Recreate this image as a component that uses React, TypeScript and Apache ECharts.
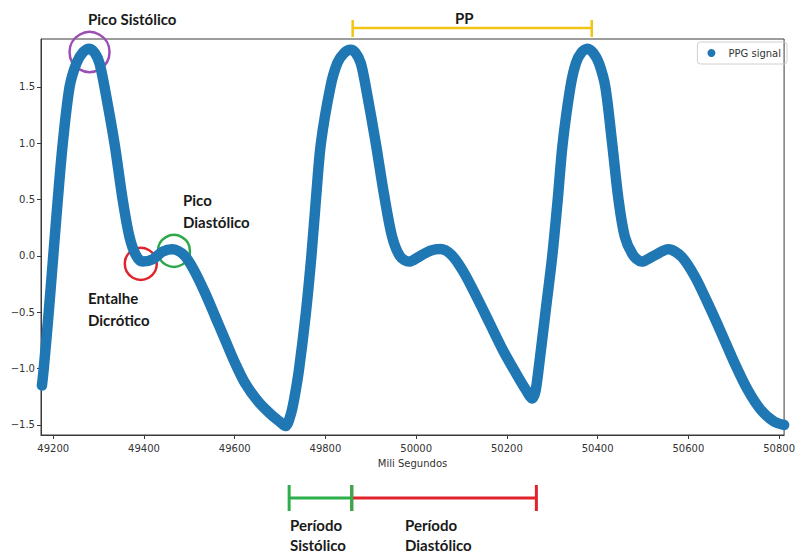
import React, { useEffect, useRef } from "react";
import * as echarts from "echarts";

// PPG signal (time in ms, amplitude)
const timeMs: number[] = [
  // cycle 1
  49175, 49179, 49190, 49200, 49210, 49221, 49236, 49251, 49266, 49280, 49292, 49302, 49313, 49335, 49353, 49368,
  49382, 49397, 49419, 49441, 49462, 49488, 49510, 49535, 49557, 49579, 49601, 49623, 49652, 49681, 49699, 49712,
  // cycle 2
  49724, 49732, 49742, 49757, 49769, 49779, 49790, 49811, 49826, 49841, 49855, 49867, 49878, 49889, 49911, 49929,
  49947, 49965, 49984, 50009, 50031, 50053, 50078, 50104, 50133, 50162, 50191, 50220, 50242, 50256,
  // cycle 3
  50263, 50270, 50285, 50300, 50312, 50323, 50340, 50352, 50365, 50378, 50391, 50403, 50417, 50432, 50446, 50460,
  50478, 50497, 50523, 50556, 50585, 50614, 50643, 50673, 50702, 50731, 50760, 50789, 50811,
];
const signal: number[] = [
  -1.15, -1.0, -0.5, 0.0, 0.5, 1.0, 1.5, 1.71, 1.81, 1.84, 1.8, 1.71, 1.5, 1.0, 0.5, 0.17,
  0.009, -0.05, -0.03, 0.038, 0.059, 0.009, -0.124, -0.331, -0.538, -0.746, -0.952, -1.13, -1.293, -1.411, -1.47, -1.51,
  -1.4, -1.25, -1.0, -0.5, 0.0, 0.5, 1.0, 1.5, 1.71, 1.8, 1.83, 1.8, 1.71, 1.5, 1.0, 0.55,
  0.171, -0.006, -0.05, 0.0, 0.047, 0.062, 0.009, -0.139, -0.361, -0.597, -0.834, -1.041, -1.189, -1.265,
  -1.2, -1.0, -0.5, 0.0, 0.5, 1.0, 1.5, 1.71, 1.81, 1.84, 1.8, 1.71, 1.5, 1.0, 0.5, 0.171,
  0.009, -0.05, 0.0, 0.059, -0.006, -0.18, -0.42, -0.686, -0.952, -1.19, -1.367, -1.47, -1.5,
];

const xTicks: number[] = [49200, 49400, 49600, 49800, 50000, 50200, 50400, 50600, 50800];
const yTicks: number[] = [-1.5, -1.0, -0.5, 0.0, 0.5, 1.0, 1.5];
const xRange: number[] = [49173, 50811];
const yRange: number[] = [-1.589, 1.926];

// annotation anchors in data coordinates
const systolicPeak: number[] = [49280, 1.81];
const dicroticNotch: number[] = [49393, -0.07];
const diastolicPeak: number[] = [49466, 0.045];
const ppRange: number[] = [49860, 50387];
const systolicPeriod: number[] = [49720, 49858];
const diastolicPeriod: number[] = [49858, 50265];

const BLUE = "#1f77b4";
const LBL_FONT = "Lato";

export default function App() {
  const ref = useRef<HTMLDivElement>(null);
  useEffect(() => {
    document.body.style.margin = "0";
    const chart = echarts.init(ref.current!, undefined, { renderer: "svg" });
    const data = timeMs.map((t, i) => [t, signal[i]]);
    chart.setOption({
      animation: false,
      backgroundColor: "#ffffff",
      grid: {
        left: 41,
        right: 8,
        top: 39,
        bottom: 119,
        show: true,
        borderColor: "#3a3a3a",
        borderWidth: 1,
        backgroundColor: "#ffffff",
      },
      legend: {
        right: 11,
        top: 42,
        data: [{ name: "PPG signal", icon: "circle" }],
        itemWidth: 8,
        itemHeight: 8,
        itemGap: 6,
        borderColor: "#d0d0d0",
        borderWidth: 1,
        borderRadius: 3,
        padding: [6, 6, 6, 10],
        textStyle: { fontFamily: "DejaVu Sans", fontSize: 10, color: "#333", padding: [0, 0, 0, 8] },
      },
      xAxis: {
        type: "value",
        min: xRange[0],
        max: xRange[1],
        name: "Mili Segundos",
        nameLocation: "middle",
        nameGap: 23,
        nameTextStyle: { fontFamily: "DejaVu Sans", fontSize: 10, color: "#333" },
        splitLine: { show: false },
        axisLine: { show: true, onZero: false, lineStyle: { color: "#3a3a3a" } },
        axisTick: { show: true, length: 4, customValues: xTicks, lineStyle: { color: "#3a3a3a" } },
        axisLabel: {
          customValues: xTicks,
          margin: 8,
          fontFamily: "DejaVu Sans",
          fontSize: 10,
          color: "#333",
          formatter: (v: number) => String(v),
        },
      },
      yAxis: {
        type: "value",
        min: yRange[0],
        max: yRange[1],
        splitLine: { show: false },
        axisLine: { show: true, onZero: false, lineStyle: { color: "#3a3a3a" } },
        axisTick: { show: true, length: 4, customValues: yTicks, lineStyle: { color: "#3a3a3a" } },
        axisLabel: {
          customValues: yTicks,
          margin: 6,
          fontFamily: "DejaVu Sans",
          fontSize: 10,
          color: "#333",
          formatter: (v: number) => v.toFixed(1).replace("-", "\u2212"),
        },
      },
      series: [
        {
          name: "PPG signal",
          type: "line",
          data,
          smooth: 0.3,
          showSymbol: false,
          symbol: "circle",
          itemStyle: { color: BLUE },
          lineStyle: { color: BLUE, width: 10.5, cap: "round", join: "round" },
        },
      ],
    });

    const px = (p: number[]) => chart.convertToPixel({ gridIndex: 0 }, p) as number[];
    const xpx = (x: number) => px([x, 0])[0];
    const txt = (text: string, x: number, y: number) => ({
      type: "text",
      x,
      y,
      style: {
        text,
        fill: "#1a1a1a",
        font: `bold 15px ${LBL_FONT}`,
        textAlign: "left",
        textVerticalAlign: "middle",
      },
    });
    const circ = (p: number[], r: number, color: string) => {
      const c = px(p);
      return {
        type: "circle",
        shape: { cx: c[0], cy: c[1], r },
        style: { fill: "none", stroke: color, lineWidth: 2.5 },
      };
    };
    const bracket = (x0: number, x1: number, y: number, h0: number, h1: number, color: string, w: number) => [
      { type: "line", shape: { x1: x0, y1: y, x2: x1, y2: y }, style: { stroke: color, lineWidth: w } },
      { type: "line", shape: { x1: x0, y1: h0, x2: x0, y2: h1 }, style: { stroke: color, lineWidth: w } },
      { type: "line", shape: { x1: x1, y1: h0, x2: x1, y2: h1 }, style: { stroke: color, lineWidth: w } },
    ];

    const graphics: any[] = [
      circ(systolicPeak, 20, "#9b4fb5"),
      circ(dicroticNotch, 16, "#e0232d"),
      circ(diastolicPeak, 16, "#2ea84c"),
      txt("Pico Sistólico", 88, 19),
      txt("PP", 455, 18),
      txt("Pico", 183, 200),
      txt("Diastólico", 183, 222),
      txt("Entalhe", 88, 298),
      txt("Dicrótico", 88, 320),
      ...bracket(xpx(ppRange[0]), xpx(ppRange[1]), 28, 20, 37, "#f2c416", 2.5),
      ...bracket(xpx(diastolicPeriod[0]), xpx(diastolicPeriod[1]), 498, 485, 511, "#e0232d", 3),
      ...bracket(xpx(systolicPeriod[0]), xpx(systolicPeriod[1]), 498, 485, 511, "#2db04b", 3),
      txt("Período", 290, 525),
      txt("Sistólico", 290, 545),
      txt("Período", 405, 525),
      txt("Diastólico", 405, 545),
    ];
    chart.setOption({ graphic: graphics });
    return () => chart.dispose();
  }, []);
  return <div ref={ref} style={{ width: 798, height: 554 }} />;
}
